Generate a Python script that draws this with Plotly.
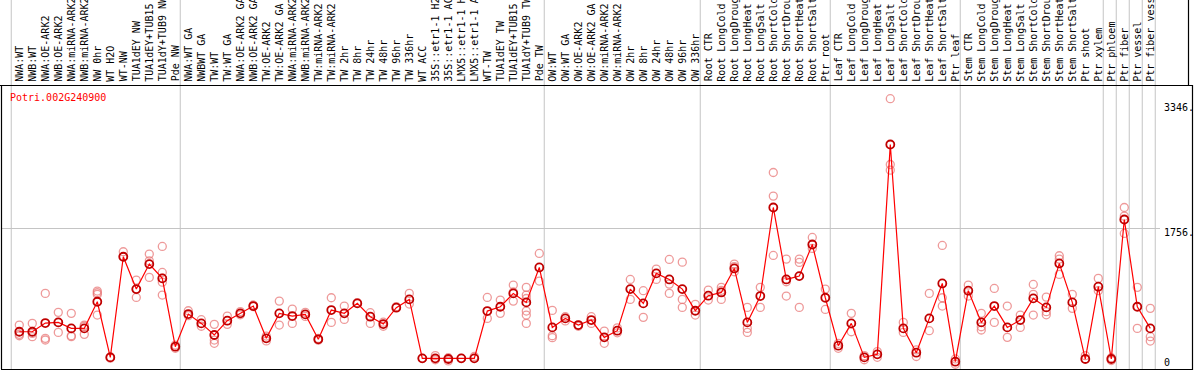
import plotly.graph_objects as go

# ---------------- data ----------------
categories = [
    "NWA:WT", "NWB:WT", "NWA:OE-ARK2", "NWB:OE-ARK2", "NWA:miRNA-ARK2", "NWB:miRNA-ARK2",
    "NW 0hr", "WT H2O", "WT-NW", "TUA1dEY NW", "TUA1dEY+TUB15", "TUA1dY+TUB9 NW", "Pde NW",
    "NWA:WT GA", "NWBWT GA", "TW:WT", "TW:WT GA", "NWA:OE-ARK2 GA", "NWB:OE-ARK2 GA",
    "TW:OE-ARK2", "TW:OE-ARK2 GA", "NWA:miRNA-ARK2", "NWB:miRNA-ARK2", "TW:miRNA-ARK2",
    "TW:miRNA-ARK2", "TW 2hr", "TW 8hr", "TW 24hr", "TW 48hr", "TW 96hr", "TW 336hr",
    "WT ACC", "35S::etr1-1 H2O", "35S::etr1-1 ACC", "LMX5::etr1-1 H2O", "LMX5::etr1-1 ACC",
    "WT-TW", "TUA1dEY TW", "TUA1dEY+TUB15", "TUA1dY+TUB9 TW", "Pde TW",
    "OW:WT", "OW:WT GA", "OW:OE-ARK2", "OW:OE-ARK2 GA", "OW:miRNA-ARK2", "OW:miRNA-ARK2",
    "OW 2hr", "OW 8hr", "OW 24hr", "OW 48hr", "OW 96hr", "OW 336hr",
    "Root CTR", "Root LongCold", "Root LongDrought", "Root LongHeat", "Root LongSalt",
    "Root ShortCold", "Root ShortDrought", "Root ShortHeat", "Root ShortSalt", "Ptr root",
    "Leaf CTR", "Leaf LongCold", "Leaf LongDrought", "Leaf LongHeat", "Leaf LongSalt",
    "Leaf ShortCold", "Leaf ShortDrought", "Leaf ShortHeat", "Leaf ShortSalt", "Ptr leaf",
    "Stem CTR", "Stem LongCold", "Stem LongDrought", "Stem LongHeat", "Stem LongSalt",
    "Stem ShortCold", "Stem ShortDrought", "Stem ShortHeat", "Stem ShortSalt",
    "Ptr shoot", "Ptr xylem", "Ptr phloem", "Ptr fiber", "Ptr vessel", "Ptr fiber vessel",
]

mean_values = [
    493, 493, 599, 607, 534, 534, 860, 179, 1411, 1015,
    1321, 1146, 310, 709, 595, 453, 628, 718, 807, 412,
    718, 685, 705, 400, 758, 718, 840, 677, 587, 787,
    889, 167, 167, 159, 167, 167, 746, 799, 962, 852,
    1280, 546, 656, 575, 636, 424, 506, 1015, 840, 1207,
    1133, 1015, 750, 934, 974, 1268, 607, 930, 2014, 1133,
    1174, 1561, 909, 322, 595, 179, 216, 2785, 534, 236,
    656, 1084, 126, 995, 607, 807, 546, 636, 901, 791,
    1329, 852, 159, 1044, 159, 1867, 799, 534,
]

replicate_values = [
    [575, 461, 444], [595, 473, 432], [962, 412, 392], [730, 485, 607], [718, 444, 432],
    [575, 461, 560], [991, 970, 950, 697], [185, 170], [1472, 1411], [1125, 913, 1010],
    [1443, 1360, 1158], [1537, 1219, 1150, 1100, 942], [330, 290], [750, 690], [640, 560],
    [583, 391, 351], [685, 583, 630], [740, 700], [820, 800], [440, 380],
    [868, 575], [770, 595], [730, 680], [410, 390], [909, 607],
    [807, 644], [850], [726, 595], [610, 560], [800],
    [962, 832], [167], [200, 150], [175, 135], [167],
    [190], [913, 656], [881, 718], [1064, 868, 980], [1036, 942, 900, 746, 697, 595],
    [1451, 1113], [754, 444, 420], [677, 625], [575, 560], [677, 595],
    [501, 351], [540, 480], [1133, 889], [995, 669], [1260, 1133],
    [1378, 1076, 962], [1345, 889, 791], [828, 697], [1003, 881], [1036, 889, 1000],
    [1321, 1227, 1290], [791, 534, 485], [1036, 791], [2442, 2153, 1427], [1382, 1105, 930],
    [1382, 1341, 791], [1647, 1513], [1015, 766], [350, 290], [718, 493],
    [200, 150], [250, 180], [3346, 2540, 2471], [607, 485], [270, 190],
    [962, 506], [1549, 909, 807], [160, 95], [1064, 930], [718, 554, 514],
    [1023, 607], [807, 424], [697, 546], [1072, 950, 697], [917, 738, 700],
    [1423, 1382, 1195], [950, 779], [200], [1146, 995], [175, 140],
    [2014, 1908, 1696], [1036, 534], [779, 432, 379],
]

group_ends = [0, 13, 41, 53, 63, 73, 84, 85, 86, 87, 88]
gene_id = "Potri.002G240900"
axis_labels = ["3346.", "1756.", "0"]

# ---------------- layout geometry ----------------
W, H = 1194, 370
X0, DX = 19.3, 13.0          # pixel centre of first category, spacing
Y_TOP, Y_ZERO = 85.0, 372.0  # pixel of axis max and of value 0
data_max = max(max(r) for r in replicate_values)
axis_max = data_max * 1.05
SY = (Y_ZERO - Y_TOP) / axis_max


def px2x(px):
    return 1 + (px - X0) / DX


def py2v(py):
    return (Y_ZERO - py) / SY


def pxp(px):
    return px / W


def pyp(py):
    return 1 - py / H


xs = list(range(1, len(categories) + 1))
rx, ry = [], []
for i, reps in zip(xs, replicate_values):
    for v in reps:
        rx.append(i)
        ry.append(v)

fig = go.Figure()
fig.add_trace(go.Scatter(
    x=rx, y=ry, mode="markers",
    marker=dict(symbol="circle-open", size=8, color="rgba(232,120,120,0.75)",
                line=dict(width=1.3)),
    hoverinfo="skip", showlegend=False,
))
fig.add_trace(go.Scatter(
    x=xs, y=mean_values, mode="lines+markers",
    line=dict(color="#ff0000", width=1.2),
    marker=dict(symbol="circle-open", size=8, color="#c00000", line=dict(width=1.8)),
    showlegend=False,
))

shapes = []
GRAY = "#c4c4c4"
# group separators
for g in group_ends:
    xb = g + 0.5 - 0.12
    shapes.append(dict(type="line", xref="x", yref="paper", x0=xb, x1=xb,
                       y0=pyp(369), y1=1, line=dict(color=GRAY, width=1), layer="below"))
# mid reference line
mid = axis_max / 2
shapes.append(dict(type="line", xref="paper", yref="y", x0=pxp(1), x1=pxp(1160),
                   y0=mid, y1=mid, line=dict(color=GRAY, width=1), layer="below"))
# black frame
BLK = "#000000"
for (a, b, c, d) in [(0, 85.5, 1192, 85.5), (1.5, 85, 1.5, 369), (1, 369.5, 1192, 369.5),
                     (1192.5, 85, 1192.5, 370), (1188.5, 0, 1188.5, 85)]:
    shapes.append(dict(type="line", xref="paper", yref="paper", x0=pxp(a), x1=pxp(c),
                       y0=pyp(b), y1=pyp(d), line=dict(color=BLK, width=1.2), layer="above"))

MONO = "DejaVu Sans Mono, Liberation Mono, monospace"
annotations = []
for i, name in zip(xs, categories):
    annotations.append(dict(x=i, y=py2v(82.5), xref="x", yref="y", text=name,
                            textangle=-90, xanchor="center", yanchor="bottom",
                            showarrow=False, font=dict(family=MONO, size=10, color="black"),
                            borderpad=0))
annotations.append(dict(x=pxp(9), y=pyp(97), xref="paper", yref="paper", text=gene_id,
                        xanchor="left", yanchor="middle", showarrow=False,
                        font=dict(family=MONO, size=10, color="#ff0000"), borderpad=0))
for txt, py in zip(axis_labels, [107.5, 232.5, 362]):
    annotations.append(dict(x=pxp(1163), y=pyp(py), xref="paper", yref="paper", text=txt,
                            xanchor="left", yanchor="middle", showarrow=False,
                            font=dict(family=MONO, size=10, color="black"), borderpad=0))

fig.update_layout(
    width=W, height=H, autosize=False,
    margin=dict(l=0, r=0, t=0, b=0, pad=0),
    paper_bgcolor="white", plot_bgcolor="white",
    xaxis=dict(range=[px2x(0), px2x(W)], visible=False, fixedrange=True),
    yaxis=dict(range=[py2v(H), py2v(0)], visible=False, fixedrange=True),
    shapes=shapes, annotations=annotations,
)

fig.write_html("out.html", config={"displayModeBar": False},
               post_script="document.body.style.margin='0';")
